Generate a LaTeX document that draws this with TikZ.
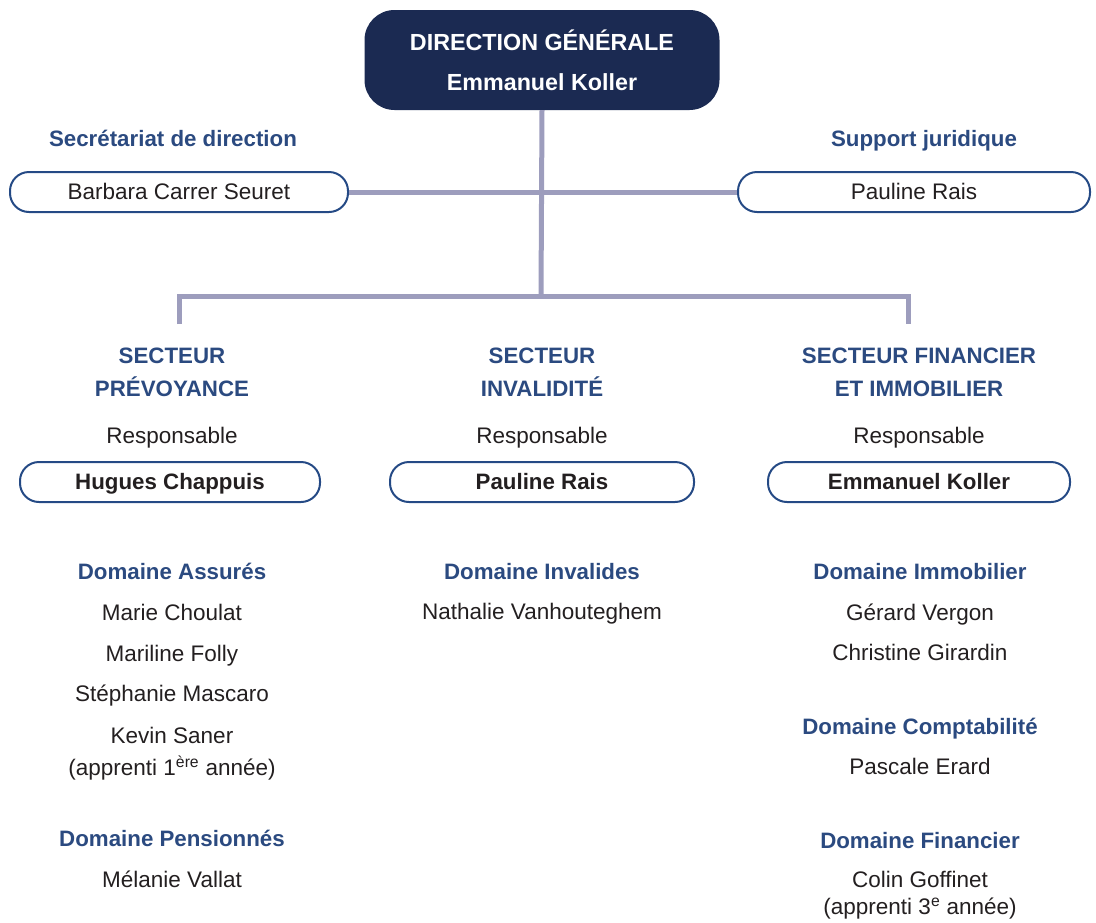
\documentclass[tikz,border=0pt]{standalone}
\usepackage{fontspec}
\setmainfont{Liberation Sans}
\usetikzlibrary{positioning}
\definecolor{navy}{HTML}{1B2A52}
\definecolor{headblue}{HTML}{2B4A80}
\definecolor{boxblue}{HTML}{254A85}
\definecolor{linkgray}{HTML}{9D9DBD}
\definecolor{txt}{HTML}{231F20}
\begin{document}
\begin{tikzpicture}[x=1pt,y=-1pt,font=\fontsize{22.5}{27}\selectfont,text=txt]
    \tikzstyle{link}=[draw=linkgray, line width=5pt]
    \tikzstyle{strut}=[text height=18pt, text depth=4pt]
    \tikzstyle{sector}=[font=\fontsize{22.3}{33}\selectfont\bfseries, text=headblue, align=center]
    \tikzstyle{head}=[font=\fontsize{22.3}{27}\selectfont\bfseries, text=headblue, strut]
    \tikzstyle{pill}=[draw=boxblue, line width=2pt, rounded corners=19pt, minimum height=40pt, inner sep=0pt, strut]
    \tikzstyle{person}=[inner sep=0pt, strut]

    \useasboundingbox (0,0) rectangle (1096,922);

    % Draw the direction box
    \node[fill=navy, rounded corners=30pt, minimum width=355pt, minimum height=100pt, text=white,
      font=\fontsize{23.3}{40}\selectfont\bfseries, align=center] (dg) at (542,60)
      {DIRECTION GÉNÉRALE\\Emmanuel Koller};

    % Draw the staff boxes
    \node[head] (sec-t) at (173,139) {Secrétariat de direction};
    \node[head] (jur-t) at (924,139) {Support juridique};
    \node[pill, minimum width=338pt] (sec) at (179,192) {Barbara Carrer Seuret};
    \node[pill, minimum width=352pt] (jur) at (914,192) {Pauline Rais};

    % Draw the sector titles and heads
    \node[sector] (s-1) at (172,372) {SECTEUR\\PRÉVOYANCE};
    \node[sector] (s-2) at (542,372) {SECTEUR\\INVALIDITÉ};
    \node[sector] (s-3) at (919,372) {SECTEUR FINANCIER\\ET IMMOBILIER};
    \foreach \name / \x in {1/172,2/542,3/919}
      \node[person] (r-\name) at (\x,436) {Responsable};
    \node[pill, minimum width=300pt, font=\fontsize{22.3}{27}\selectfont\bfseries] (h-1) at (170,482) {Hugues Chappuis};
    \node[pill, minimum width=304pt, font=\fontsize{22.3}{27}\selectfont\bfseries] (h-2) at (542,482) {Pauline Rais};
    \node[pill, minimum width=302pt, font=\fontsize{22.3}{27}\selectfont\bfseries] (h-3) at (919,482) {Emmanuel Koller};

    % Draw the connectors
    \coordinate (j) at (541,296);
    \coordinate (b-l) at (179,296);
    \coordinate (b-r) at (908,296);
    \coordinate (d-l) at (179,324);
    \coordinate (d-r) at (908,324);
    \path[link] (dg.south) -- (j);
    \path[link] (sec.east) -- (jur.west);
    \path[link] (d-l) -- (b-l) -- (b-r) -- (d-r);

    % Domaine Assurés / Pensionnés
    \node[head] (d-a) at (172,572) {Domaine Assurés};
    \foreach \name / \who / \y in {1/Marie Choulat/613,2/Mariline Folly/654,3/Stéphanie Mascaro/694,4/Kevin Saner/736}
      \node[person] (a-\name) at (172,\y) {\who};
    \node[person] (a-5) at (172,768) {(apprenti 1\textsuperscript{ère} année)};
    \node[head] (d-p) at (172,839) {Domaine Pensionnés};
    \node[person] (p-1) at (172,880) {Mélanie Vallat};

    % Domaine Invalides
    \node[head] (d-i) at (542,572) {Domaine Invalides};
    \node[person] (i-1) at (542,612) {Nathalie Vanhouteghem};

    % Domaines Immobilier / Comptabilité / Financier
    \node[head] (d-m) at (920,572) {Domaine Immobilier};
    \node[person] (m-1) at (920,613) {Gérard Vergon};
    \node[person] (m-2) at (920,653) {Christine Girardin};
    \node[head] (d-c) at (920,727) {Domaine Comptabilité};
    \node[person] (c-1) at (920,767) {Pascale Erard};
    \node[head] (d-f) at (920,841) {Domaine Financier};
    \node[person] (f-1) at (920,880) {Colin Goffinet};
    \node[person] (f-2) at (920,907) {(apprenti 3\textsuperscript{e} année)};
\end{tikzpicture}
\end{document}
